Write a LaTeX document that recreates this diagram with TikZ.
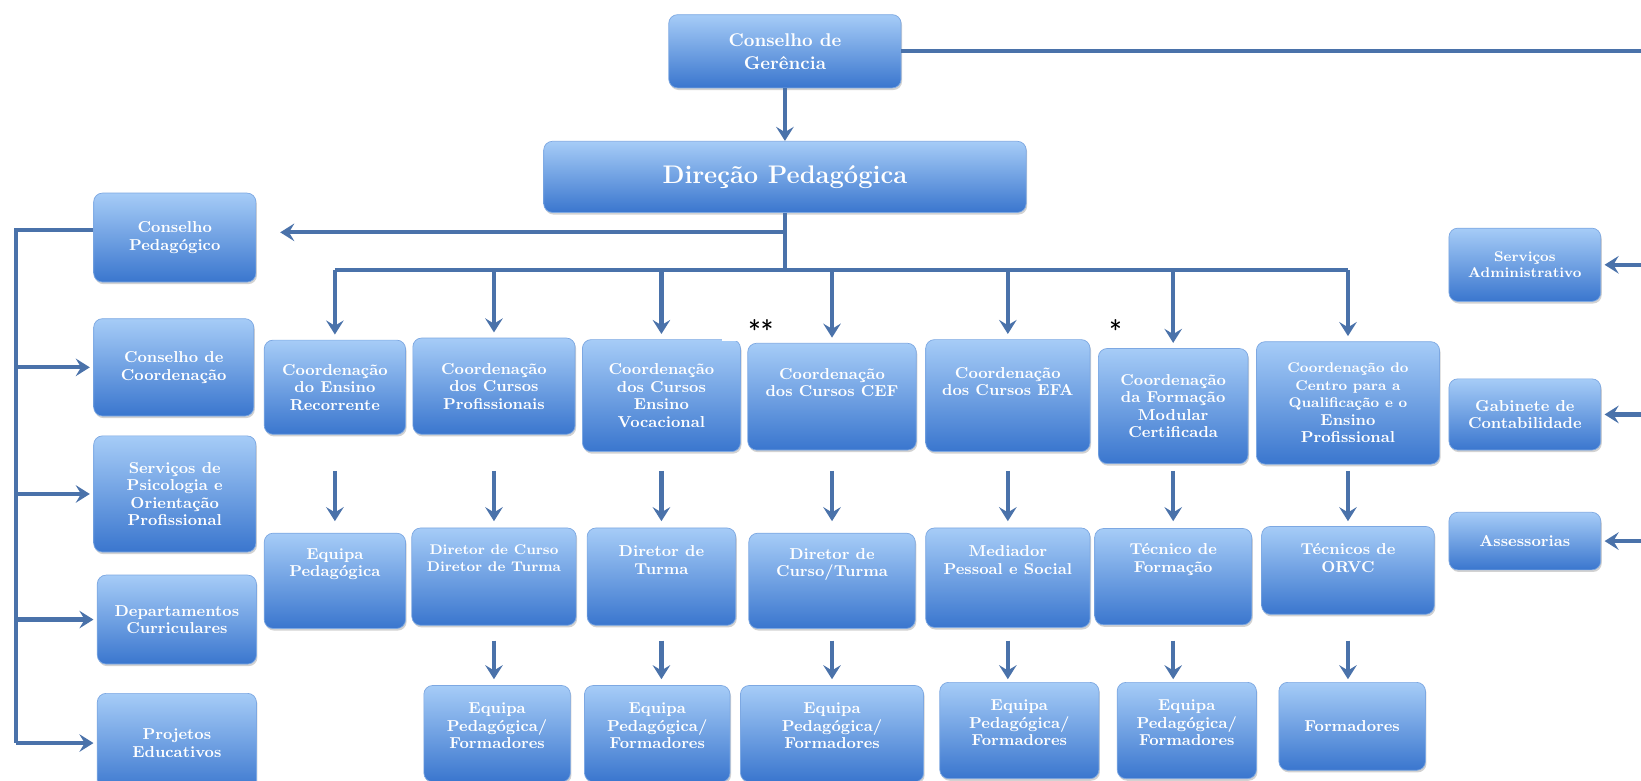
\documentclass[tikz,border=0pt]{standalone}
\usetikzlibrary{arrows.meta}
\usetikzlibrary{shadows}

\definecolor{boxtop}{RGB}{166,204,247}
\definecolor{boxbot}{RGB}{58,118,206}
\definecolor{boxedge}{RGB}{125,168,226}
\definecolor{linecol}{RGB}{74,114,170}

\newcommand\padbelow[1]{\rule[-#1]{0pt}{#1}}
\newcommand\minitxt{\fontsize{8}{9.5}\selectfont}
\newcommand\basetxt{\fontsize{9}{10}\selectfont}

\begin{document}
\begin{tikzpicture}[x=0.02093cm, y=-0.02093cm,
    box/.style={rounded corners=5pt, draw=boxedge, line width=0.4pt,
        top color=boxtop, bottom color=boxbot,
        drop shadow={shadow xshift=0.6pt, shadow yshift=-1.2pt, opacity=0.35},
        text=white, align=center, inner sep=2pt,
        font=\basetxt\bfseries},
    sz/.style 2 args={minimum width=#1*0.02093cm, minimum height=#2*0.02093cm},
    line/.style={draw=linecol, line width=2.4pt},
    arr/.style={line, -{Stealth[length=8pt, width=10pt, inset=3pt]}}]

    % white page, cut at the frame
    \useasboundingbox[fill=white] (0,0) rectangle (1568,746);
    \clip (0,0) rectangle (1568,746);

    % top
    \node[box, sz={222}{70}, font=\fontsize{10.5}{13}\selectfont\bfseries] (cg) at (750,49) {Conselho de\\Gerência};
    \node[box, sz={461}{68}, font=\fontsize{14.5}{16}\selectfont\bfseries] (dp) at (750,169) {Direção Pedagógica};

    % left column
    \node[box, sz={155}{85}] (cpd) at (167,227) {Conselho\\Pedagógico};
    \node[box, sz={153}{93}] (cco) at (166,351) {Conselho de\\Coordenação};
    \node[box, sz={155}{111}] (spo) at (167,472) {Serviços de\\Psicologia e\\Orientação\\Profissional};
    \node[box, sz={152}{85}] (dc) at (169,592) {Departamentos\\Curriculares};
    \node[box, sz={152}{95}] (pe) at (169,710) {Projetos\\Educativos};

    % coordinations
    \node[box, sz={135}{90}] (cr) at (320,370) {Coordenação\\do Ensino\\Recorrente};
    \node[box, sz={155}{92}] (cp) at (472,369) {Coordenação\\dos Cursos\\Profissionais};
    \node[box, sz={151}{107}] (cv) at (632,378) {Coordenação\\dos Cursos\\Ensino\\Vocacional};
    \node[box, sz={161}{102}] (cc) at (795,379) {Coordenação\\dos Cursos CEF\padbelow{16pt}};
    \node[box, sz={157}{107}] (ce) at (963,378) {Coordenação\\dos Cursos EFA\padbelow{16pt}};
    \node[box, sz={143}{110}] (cm) at (1121,388) {Coordenação\\da Formação\\Modular\\Certificada};
    \node[box, sz={175}{117}] (cq) at (1288,385) {\minitxt Coordenação do\\\minitxt Centro para a\\\minitxt Qualificação e o\\\basetxt Ensino\\\basetxt Profissional};

    % second row
    \node[box, sz={135}{91}] (ep) at (320,555) {Equipa\\Pedagógica\padbelow{21pt}};
    \node[box, sz={157}{93}] (dct) at (472,551) {\minitxt Diretor de Curso\\\minitxt Diretor de Turma\padbelow{21pt}};
    \node[box, sz={142}{93}] (dt) at (632,551) {Diretor de\\Turma\padbelow{19pt}};
    \node[box, sz={159}{91}] (dcu) at (795,555) {Diretor de\\Curso/Turma\padbelow{21pt}};
    \node[box, sz={157}{95}] (mps) at (963,552) {Mediador\\Pessoal e Social\padbelow{20pt}};
    \node[box, sz={150}{92}] (tf) at (1121,551) {Técnico de\\Formação\padbelow{21pt}};
    \node[box, sz={165}{84}] (tor) at (1288,545) {Técnicos de\\ORVC\padbelow{14pt}};

    % third row
    \node[box, sz={140}{92}] (f2) at (475,701) {Equipa\\Pedagógica/\\Formadores\padbelow{9pt}};
    \node[box, sz={139}{92}] (f3) at (628,701) {Equipa\\Pedagógica/\\Formadores\padbelow{9pt}};
    \node[box, sz={175}{92}] (f4) at (795,701) {Equipa\\Pedagógica/\\Formadores\padbelow{9pt}};
    \node[box, sz={152}{92}] (f5) at (974,698) {Equipa\\Pedagógica/\\Formadores\padbelow{9pt}};
    \node[box, sz={133}{92}] (f6) at (1134,698) {Equipa\\Pedagógica/\\Formadores\padbelow{9pt}};
    \node[box, sz={140}{84}] (f7) at (1292,694) {Formadores};

    % right column
    \node[box, sz={145}{70}, font=\minitxt\bfseries] (sa) at (1457,253) {Serviços\\Administrativo};
    \node[box, sz={145}{68}] (gc) at (1457,396) {Gabinete de\\Contabilidade};
    \node[box, sz={145}{55}] (as) at (1457,517) {Assessorias};

    % marks
    \node[fill=white, font=\sffamily\Large, sz={75}{24}, inner sep=0pt] (m2) at (727,314) {**};
    \node[font=\sffamily\Large, inner sep=0pt] (m1) at (1066,314) {*};

    \coordinate (redge) at (1568,48);
    \coordinate (lx) at (15,220);
    \coordinate (split) at (750,222);
    \coordinate (bus) at (750,258);
    \coordinate (a1) at (0,450);
    \coordinate (a2) at (0,498);
    \coordinate (b1) at (0,612);
    \coordinate (b2) at (0,649);

    \draw[arr] (cg) -- (dp);
    \draw[line] (cg.east) -- (redge |- cg.east);
    \draw[line] (dp.south) -- (bus);
    \draw[arr, shorten >=0.48cm] (split) -- (cpd.east |- split);
    \draw[line] (cr.north |- bus) -- (cq.north |- bus);

    \foreach \c in {cr,cp,cv,cc,ce,cm,cq}
        \draw[arr, shorten >=3pt] (\c.north |- bus) -- (\c.north);
    \foreach \c in {cr,cp,cv,cc,ce,cm,cq}
        \draw[arr] (\c |- a1) -- (\c |- a2);
    \foreach \c in {cp,cv,cc,ce,cm,cq}
        \draw[arr] (\c |- b1) -- (\c |- b2);

    % left side
    \draw[line] (cpd.west |- lx) -- (lx) -- (lx |- pe);
    \foreach \c in {cco,spo,dc,pe}
        \draw[arr, shorten >=2pt] (lx |- \c) -- (\c.west);

    % right side
    \foreach \c in {sa,gc,as}
        \draw[arr, shorten >=2pt] (redge |- \c) -- (\c.east);
\end{tikzpicture}
\end{document}
